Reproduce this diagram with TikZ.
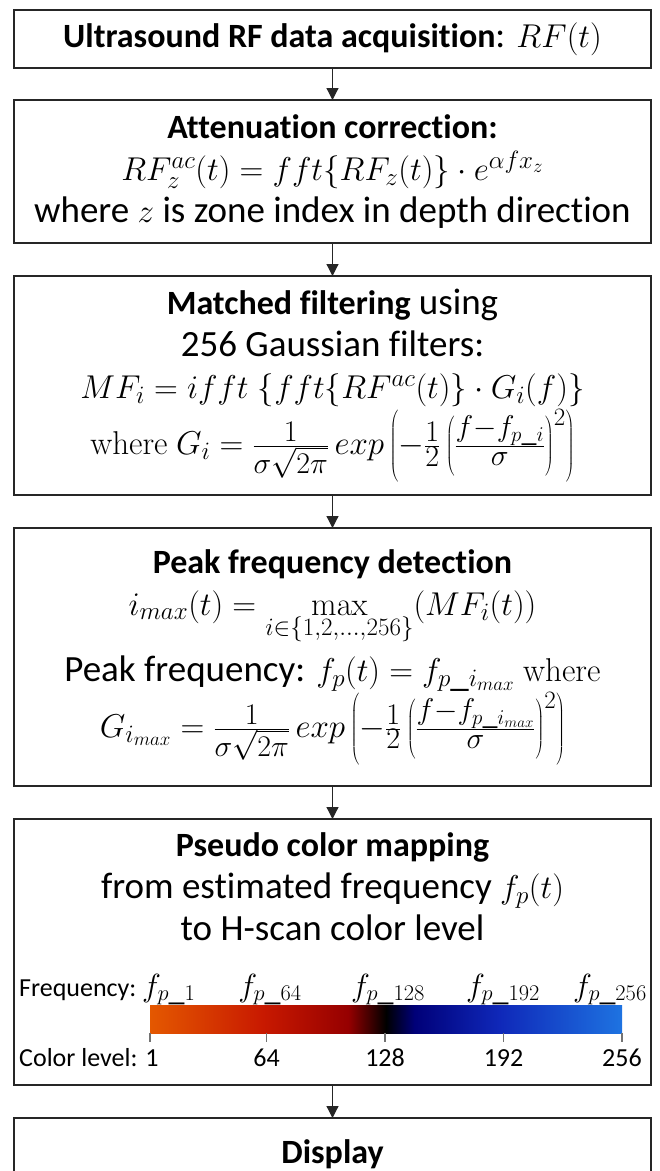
\documentclass[tikz,border=0pt]{standalone}
\usepackage{fix-cm}
\usepackage[no-math]{fontspec}
\setmainfont{Carlito}[Ligatures=NoCommon]
\usetikzlibrary{positioning, arrows.meta}

\definecolor{cmorange}{RGB}{228,88,0}
\definecolor{cmred}{RGB}{200,25,0}
\definecolor{cmdarkred}{RGB}{150,0,0}
\definecolor{cmnavy}{RGB}{0,0,120}
\definecolor{cmblue}{RGB}{15,40,185}
\definecolor{cmsky}{RGB}{30,115,225}
\pgfdeclarehorizontalshading{hscanmap}{100bp}{color(0bp)=(cmorange); color(25bp)=(cmorange); color(37bp)=(cmred); color(46bp)=(cmdarkred); color(50bp)=(black); color(53bp)=(cmnavy); color(62bp)=(cmblue); color(75bp)=(cmsky); color(100bp)=(cmsky)}

\DeclareMathSizes{37}{33}{25}{19}
\newcommand\boxfont{\fontsize{37}{42}\selectfont}
\newcommand\hd[1]{{\fontsize{34}{42}\selectfont\bfseries #1}}
\newcommand\gfrac[2]{\frac{\mbox{\fontsize{30}{30}\selectfont$#1$}}{\mbox{\fontsize{30}{30}\selectfont$#2$}}}

\begin{document}
\begin{tikzpicture}[x=1pt, y=1pt,
    stage/.style={draw=black!85, line width=1.8pt, outer sep=0pt, inner sep=0pt, minimum width=637pt, align=center, font=\boxfont},
    flow/.style={-{Triangle[length=12pt, width=12pt]}, line width=1.2pt, draw=black!85},
    tick/.style={draw=black!55, line width=1.2pt},
    lvl/.style={font=\fontsize{26}{32}\selectfont, anchor=base, inner sep=0pt},
    freq/.style={font=\fontsize{32}{34}\selectfont, anchor=base, inner sep=0pt}]
    \useasboundingbox (0,0) rectangle (660,-1171);
    \clip (0,0) rectangle (660,-1171);

    \node[stage, minimum height=58pt] (acq) at (332.5,-39) {\hd{Ultrasound RF data acquisition}: $RF(t)$};
    \node[stage, minimum height=143pt, below = 32pt of acq] (atten) {\hd{Attenuation correction:}\\
        $RF_z^{ac}(t) = fft\{RF_z(t)\}\cdot e^{\alpha f x_z}$\\
        where $z$ is zone index in depth direction};
    \node[stage, minimum height=219pt, below = 33pt of atten] (match) {\hd{Matched filtering} using\\
        256 Gaussian filters:\\
        $MF_i = ifft\;\{fft\{RF^{ac}(t)\}\cdot G_i(f)\}$\\[2pt]
        $\mathrm{where}\ G_i = \gfrac{1}{\sigma\sqrt{2\pi}}\,exp\left(-\gfrac{1}{2}\left(\gfrac{f{-}f_{p\_i}}{\sigma}\right)^{2}\right)$};
    \node[stage, minimum height=258pt, below = 33pt of match] (peak) {\hd{Peak frequency detection}\\
        $i_{max}(t) = \max\limits_{i\in\{1,2,\ldots,256\}}(MF_i(t))$\\[12pt]
        Peak frequency: $f_p(t) = f_{p\_i_{max}}$ $\mathrm{where}$\\
        $G_{i_{max}} = \gfrac{1}{\sigma\sqrt{2\pi}}\,exp\left(-\gfrac{1}{2}\left(\gfrac{f{-}f_{p\_i_{max}}}{\sigma}\right)^{2}\right)$};
    \node[stage, minimum height=266pt, below = 33pt of peak] (cmap) {};
    \node[stage, draw=none, minimum width=0pt, below = 14pt of cmap.north] (cmaptxt) {\hd{Pseudo color mapping}\\
        from estimated frequency $f_p(t)$\\
        to H-scan color level};
    \node[stage, minimum height=72pt, below = 33pt of cmap] (disp) {\hd{Display}};

    % colour scale
    \node[shade, shading=hscanmap, minimum width=472pt, minimum height=28pt, inner sep=0pt, outer sep=0pt] (bar) at (386,-1019) {};
    \node[lvl, anchor=base west] (freqlbl) at (19,-996) {Frequency:};
    \node[lvl, anchor=base west] (lvllbl) at (19,-1066) {Color level: 1};
    \foreach \lvl in {1,64,128,192,256} {
        \pgfmathsetmacro\tx{150+(\lvl-1)/255*472}
        \draw[tick] (\tx,-1033) -- (\tx,-1042);
    }
    \foreach \lvl in {64,128,192,256} {
        \pgfmathsetmacro\tx{150+(\lvl-1)/255*472}
        \node[lvl] (lv\lvl) at (\tx,-1066) {\lvl};
    }
    \node[freq, anchor=base west] (fp1) at (142,-996) {$f_{p\_1}$};
    \node[freq] (fp64) at (270,-996) {$f_{p\_64}$};
    \node[freq] (fp128) at (388,-996) {$f_{p\_128}$};
    \node[freq] (fp192) at (503,-996) {$f_{p\_192}$};
    \node[freq, anchor=base east] (fp256) at (647,-996) {$f_{p\_256}$};

    \draw[flow] (acq) -- (atten);
    \draw[flow] (atten) -- (match);
    \draw[flow] (match) -- (peak);
    \draw[flow] (peak) -- (cmap);
    \draw[flow] (cmap) -- (disp);
\end{tikzpicture}
\end{document}
